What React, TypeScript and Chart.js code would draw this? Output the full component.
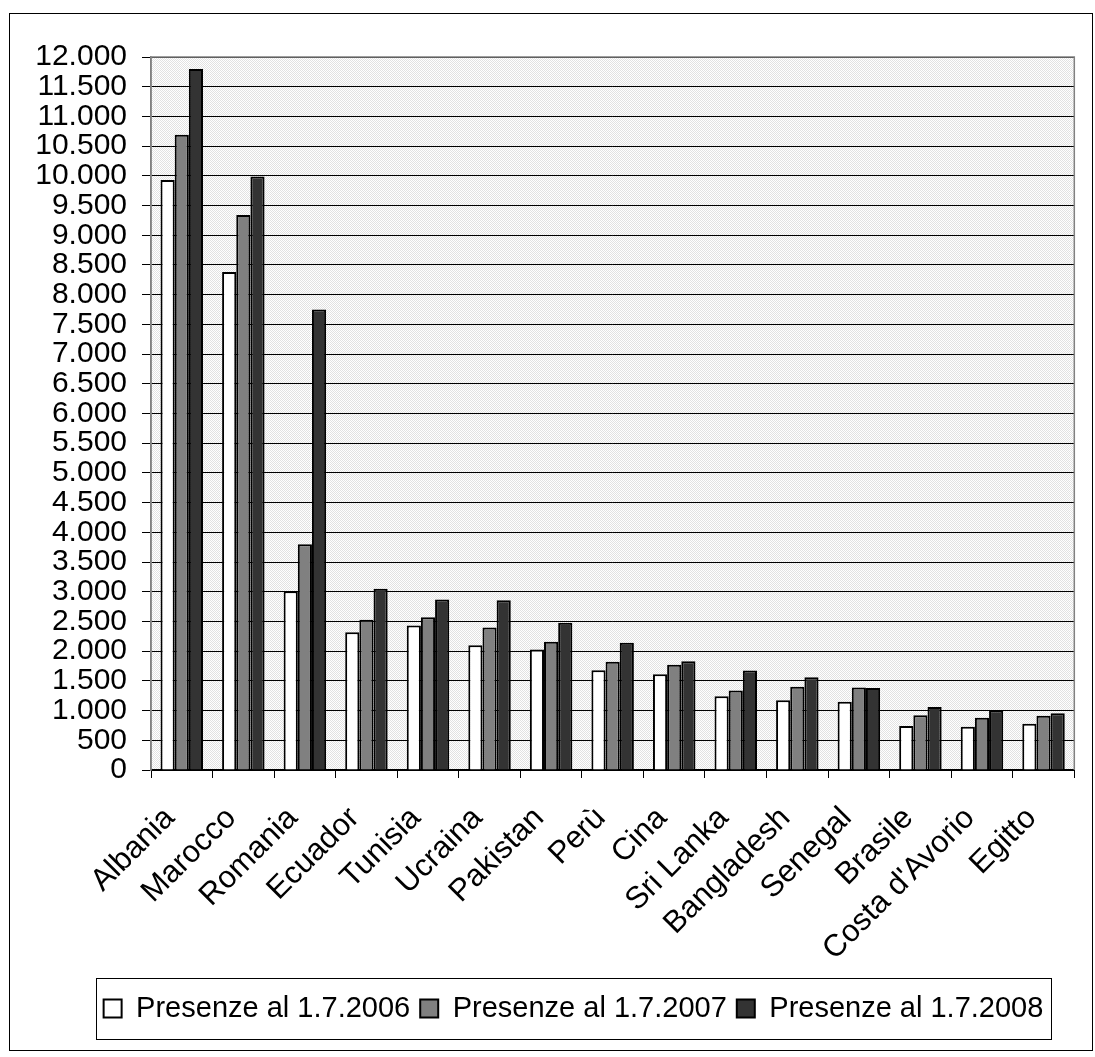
import React, { useEffect, useRef } from "react";
import { Chart, registerables } from "chart.js";

Chart.register(...registerables);

const categories = [
  "Albania", "Marocco", "Romania", "Ecuador", "Tunisia", "Ucraina", "Pakistan",
  "Perù", "Cina", "Sri Lanka", "Bangladesh", "Senegal", "Brasile", "Costa d'Avorio", "Egitto",
];
const seriesLabels = ["Presenze al 1.7.2006", "Presenze al 1.7.2007", "Presenze al 1.7.2008"];
const values2006 = [9930, 8380, 3010, 2320, 2430, 2100, 2030, 1680, 1610, 1240, 1175, 1150, 740, 730, 780];
const values2007 = [10690, 9340, 3800, 2530, 2570, 2400, 2160, 1820, 1770, 1340, 1400, 1390, 920, 880, 915];
const values2008 = [11800, 9990, 7750, 3050, 2870, 2855, 2480, 2140, 1830, 1675, 1560, 1380, 1060, 1000, 955];
const yMin = 0;
const yMax = 12000;
const yStep = 500;

const FONT = "'Liberation Sans', Arial, sans-serif";

function fmt(v: number): string {
  return String(Math.round(v)).replace(/\B(?=(\d{3})+(?!\d))/g, ".");
}

export default function App() {
  const ref = useRef<HTMLCanvasElement | null>(null);

  useEffect(() => {
    const canvas = ref.current;
    if (!canvas) return;

    const tile = document.createElement("canvas");
    tile.width = 2;
    tile.height = 2;
    const tctx = tile.getContext("2d")!;
    tctx.fillStyle = "#ffffff";
    tctx.fillRect(0, 0, 2, 2);
    tctx.fillStyle = "#e2e2e2";
    tctx.fillRect(0, 0, 1, 1);
    tctx.fillRect(1, 1, 1, 1);

    const bgPlugin = {
      id: "plotBg",
      afterLayout(chart: any) {
        const lg = chart.legend;
        if (lg) {
          lg.left += 25;
          lg.right += 25;
        }
      },
      beforeDraw(chart: any) {
        const { ctx, chartArea: a } = chart;
        const pat = ctx.createPattern(tile, "repeat");
        ctx.save();
        ctx.fillStyle = pat || "#f0f0f0";
        ctx.fillRect(a.left, a.top, a.right - a.left, a.bottom - a.top);
        ctx.restore();
      },
      beforeDatasetsDraw(chart: any) {
        const { ctx, chartArea: a } = chart;
        ctx.save();
        ctx.strokeStyle = "#808080";
        ctx.lineWidth = 1.5;
        ctx.beginPath();
        ctx.moveTo(a.left, a.bottom);
        ctx.lineTo(a.left, a.top);
        ctx.lineTo(a.right, a.top);
        ctx.lineTo(a.right, a.bottom);
        ctx.stroke();
        ctx.restore();
      },
      afterDraw(chart: any) {
        const lg = chart.legend;
        if (!lg || !lg.legendHitBoxes || !lg.legendHitBoxes.length) return;
        const hbs = lg.legendHitBoxes;
        const first = hbs[0];
        const last = hbs[hbs.length - 1];
        const cy = first.top + first.height / 2;
        const { ctx } = chart;
        ctx.save();
        ctx.strokeStyle = "#000";
        ctx.lineWidth = 1;
        ctx.strokeRect(
          Math.round(first.left - 8) + 0.5,
          Math.round(cy - 31) + 0.5,
          Math.round(last.left + last.width + 7 - (first.left - 8)),
          61
        );
        ctx.restore();
      },
    };

    const chart = new Chart(canvas, {
      type: "bar",
      data: {
        labels: categories,
        datasets: [
          { label: seriesLabels[0], data: values2006, backgroundColor: "#ffffff", borderColor: "#000000", borderWidth: 2 },
          { label: seriesLabels[1], data: values2007, backgroundColor: "#808080", borderColor: "#000000", borderWidth: 2 },
          { label: seriesLabels[2], data: values2008, backgroundColor: "#333333", borderColor: "#000000", borderWidth: 2 },
        ],
      },
      options: {
        responsive: false,
        animation: false,
        devicePixelRatio: 1,
        layout: { padding: { left: 0, top: 43, right: 5, bottom: 17 } },
        datasets: { bar: { categoryPercentage: 0.69, barPercentage: 1.0 } },
        plugins: {
          tooltip: { enabled: false },
          title: { display: false },
          legend: {
            display: true,
            position: "bottom",
            labels: {
              color: "#000",
              font: { family: FONT, size: 29 },
              boxWidth: 18,
              boxHeight: 18,
              padding: 10,
            },
          },
        },
        scales: {
          x: {
            grid: {
              display: true,
              drawOnChartArea: false,
              drawTicks: true,
              tickLength: 8,
              color: "#000",
              offset: true,
            },
            border: { display: true, color: "#000", width: 2 },
            ticks: {
              color: "#000",
              font: { family: FONT, size: 31 },
              minRotation: 45,
              maxRotation: 45,
              autoSkip: false,
              padding: 22,
              labelOffset: -12,
            },
            afterFit(scale: any) {
              scale.height = 214;
            },
          },
          y: {
            min: yMin,
            max: yMax,
            grid: {
              display: true,
              color: "#000",
              lineWidth: 1,
              drawTicks: true,
              tickLength: 9,
              tickColor: "#000",
            },
            border: { display: true, color: "#808080", width: 1.5 },
            ticks: {
              stepSize: yStep,
              autoSkip: false,
              color: "#000",
              font: { family: FONT, size: 30, lineHeight: 0.9 },
              padding: 15,
              callback: (v: any) => fmt(Number(v)),
            },
            afterFit(scale: any) {
              scale.width = 141;
            },
          },
        },
      },
      plugins: [bgPlugin],
    });

    return () => chart.destroy();
  }, []);

  return (
    <div
      style={{
        position: "absolute",
        left: 9,
        top: 13,
        width: 1084,
        height: 1038,
        border: "1px solid #000",
        boxSizing: "border-box",
        background: "#fff",
      }}
    >
      <canvas ref={ref} width={1082} height={1036} style={{ display: "block", width: 1082, height: 1036 }} />
    </div>
  );
}
